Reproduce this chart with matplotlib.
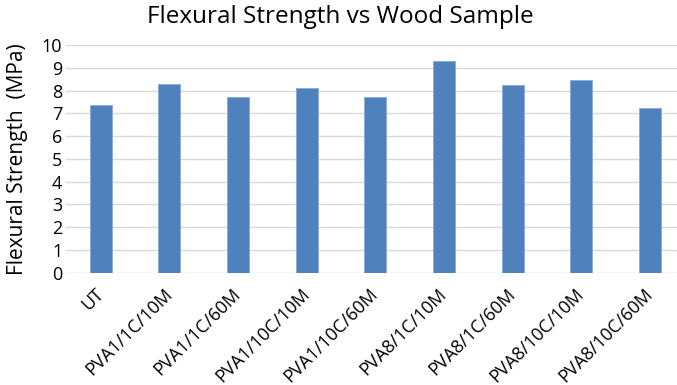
import matplotlib
matplotlib.use("Agg")
import matplotlib.pyplot as plt
from matplotlib.transforms import ScaledTranslation

samples = ["UT", "PVA1/1C/10M", "PVA1/1C/60M", "PVA1/10C/10M", "PVA1/10C/60M",
           "PVA8/1C/10M", "PVA8/1C/60M", "PVA8/10C/10M", "PVA8/10C/60M"]
strength = [7.38, 8.27, 7.73, 8.13, 7.70, 9.30, 8.23, 8.46, 7.22]
yticks = list(range(0, 11))

plt.rcParams["font.family"] = ["Open Sans", "DejaVu Sans"]

W, H = 677, 385
fig = plt.figure(figsize=(W / 100, H / 100), dpi=100)
ax = fig.add_axes([66.4 / W, 1 - 272.7 / H, 617.8 / W, (272.7 - 45) / H])

x = list(range(len(samples)))
ax.bar(x, strength, width=0.32, color="#4F81BD", edgecolor="#8AA9D6", linewidth=0.6, zorder=3)

ax.set_xlim(-0.5, len(samples) - 0.5)
ax.set_ylim(0, 10)
ax.set_yticks(yticks)
ax.set_yticklabels([str(t) for t in yticks], fontsize=13, color="#000000")
ax.set_xticks(x)
ax.set_xticklabels(samples, rotation=45, ha="right", va="center",
                   rotation_mode="anchor", fontsize=13)
shift = ScaledTranslation(8 / 100, 0, fig.dpi_scale_trans)
for lbl in ax.get_xticklabels():
    lbl.set_transform(lbl.get_transform() + shift)
ax.tick_params(axis="both", length=0)
ax.tick_params(axis="x", pad=13.5)
ax.tick_params(axis="y", pad=3)
ax.grid(axis="y", color="#D9D9D9", linewidth=1.0, zorder=0)
for s in ax.spines.values():
    s.set_visible(False)

fig.text(18 / W, 1 - 159 / H, "Flexural Strength  (MPa)", rotation=90,
         ha="center", va="center", fontsize=15)
fig.text(340 / W, 1 - 17 / H, "Flexural Strength vs Wood Sample",
         ha="center", va="center", fontsize=17.5)

fig.savefig("out.png", dpi=100)
